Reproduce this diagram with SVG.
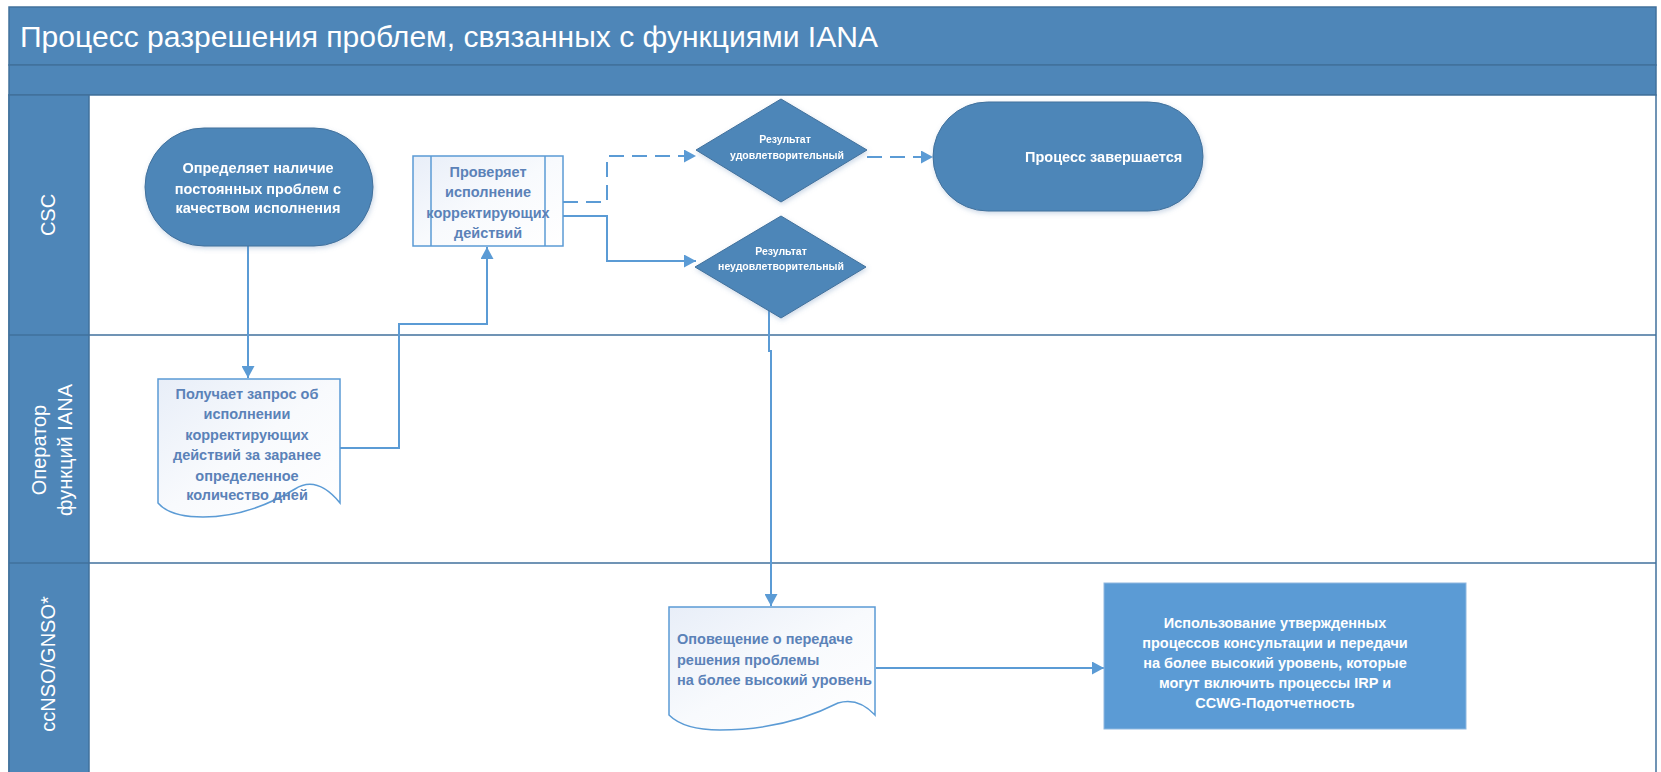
<svg xmlns="http://www.w3.org/2000/svg" width="1661" height="772" viewBox="0 0 1661 772">
<style>
.band{fill:#4e86b8;stroke:#41719c;stroke-width:1.5}
.lane{fill:#ffffff;stroke:#41719c;stroke-width:1.5}
.div{stroke:#41719c;stroke-width:1.5}
.lbl{font-family:"Liberation Sans",Arial,sans-serif;font-size:20px;fill:#ffffff;text-anchor:middle;dominant-baseline:central}
.term{fill:#4e86b8;stroke:#41719c;stroke-width:1}
.dia{fill:#4e86b8;stroke:#41719c;stroke-width:1}
.doc{fill:url(#docg);stroke:#5b9bd5;stroke-width:1.5}
.box{fill:#5b9bd5;stroke:#8fb8e0;stroke-width:1}
.wt{font-family:"Liberation Sans",Arial,sans-serif;font-weight:bold;font-size:14.5px;fill:#ffffff;text-anchor:middle}
.bt{font-family:"Liberation Sans",Arial,sans-serif;font-weight:bold;font-size:14.5px;fill:#5b82b8;text-anchor:middle}
.st{font-family:"Liberation Sans",Arial,sans-serif;font-weight:bold;font-size:10.5px;fill:#ffffff;text-anchor:middle}
.c{fill:none;stroke:#5b9bd5;stroke-width:2;marker-end:url(#ah)}
.dash{stroke-dasharray:15 8}
</style>
<defs>
<marker id="ah" markerUnits="userSpaceOnUse" markerWidth="13" markerHeight="13" refX="12" refY="6.5" orient="auto">
<path d="M0,0 L12,6.5 L0,13 z" fill="#5b9bd5"/>
</marker>
<linearGradient id="docg" x1="0" y1="0" x2="1" y2="1">
<stop offset="0" stop-color="#e8eef8"/>
<stop offset="0.5" stop-color="#f8fafd"/>
<stop offset="1" stop-color="#ffffff"/>
</linearGradient>
<filter id="sh" x="-10%" y="-10%" width="125%" height="130%">
<feDropShadow dx="1" dy="2" stdDeviation="2.5" flood-color="#6b8fb8" flood-opacity="0.35"/>
</filter>
</defs>

<g id="frame">
<rect class="band" x="9" y="7" width="1647" height="58"/>
<rect class="band" x="9" y="65" width="1647" height="30"/>
<rect class="lane" x="9" y="95" width="1647" height="680"/>
<rect class="band" x="9" y="95" width="80" height="680"/>
<line class="div" x1="9" y1="335" x2="1656" y2="335"/>
<line class="div" x1="9" y1="563" x2="1656" y2="563"/>
<text x="20" y="47" font-family="'Liberation Sans',Arial,sans-serif" font-size="30" fill="#ffffff" textLength="858" lengthAdjust="spacingAndGlyphs">Процесс разрешения проблем, связанных с функциями IANA</text>
<text class="lbl" transform="translate(48,215) rotate(-90)">CSC</text>
<text class="lbl" transform="translate(39,450) rotate(-90)">Оператор</text>
<text class="lbl" transform="translate(65,450) rotate(-90)">функций IANA</text>
<text class="lbl" transform="translate(48,664) rotate(-90)">ccNSO/GNSO*</text>
</g>

<g id="connectors">
<path class="c" d="M248,246 V378"/>
<path class="c" d="M340,448 H399 V324 H487 V247"/>
<path class="c dash" d="M563,202 H607 V156 H696"/>
<path class="c dash" d="M867,157 H933"/>
<path class="c" d="M563,216 H607 V261 H696"/>
<path class="c" d="M769,305 V351 H771 V606"/>
<path class="c" d="M876,668 H1104"/>
</g>

<g id="n1" filter="url(#sh)">
<rect class="term" x="145" y="128" width="228" height="118" rx="59" ry="59"/>
<text class="wt" x="258" y="173">Определяет наличие</text>
<text class="wt" x="258" y="194">постоянных проблем с</text>
<text class="wt" x="258" y="213">качеством исполнения</text>
</g>

<g id="n2">
<rect x="413" y="156" width="150" height="90" fill="url(#docg)" stroke="#5b9bd5" stroke-width="1.5"/>
<line x1="431" y1="156" x2="431" y2="246" stroke="#5b9bd5" stroke-width="1.5"/>
<line x1="545" y1="156" x2="545" y2="246" stroke="#5b9bd5" stroke-width="1.5"/>
<text class="bt" x="488" y="177" font-size="15">Проверяет</text>
<text class="bt" x="488" y="197" font-size="15">исполнение</text>
<text class="bt" x="488" y="218" font-size="15">корректирующих</text>
<text class="bt" x="488" y="238" font-size="15">действий</text>
</g>

<g id="n3" filter="url(#sh)">
<polygon class="dia" points="781,99 867,150 781,202 696,150"/>
<text class="st" x="785" y="143">Результат</text>
<text class="st" x="787" y="159">удовлетворительный</text>
</g>

<g id="n4" filter="url(#sh)">
<polygon class="dia" points="781,216 866,267 781,318 695,267"/>
<text class="st" x="781" y="255">Результат</text>
<text class="st" x="781" y="270">неудовлетворительный</text>
</g>

<g id="n5" filter="url(#sh)">
<rect class="term" x="933" y="102" width="270" height="109" rx="54.5" ry="54.5"/>
<text class="wt" x="1025" y="162" text-anchor="start" style="text-anchor:start">Процесс завершается</text>
</g>

<g id="n6">
<path class="doc" d="M158,379 H340 V503 Q317,475 295,489 Q249,517 203,517 Q170,517 158,503 Z"/>
<text class="bt" x="247" y="399">Получает запрос об</text>
<text class="bt" x="247" y="419">исполнении</text>
<text class="bt" x="247" y="440">корректирующих</text>
<text class="bt" x="247" y="460">действий за заранее</text>
<text class="bt" x="247" y="481">определенное</text>
<text class="bt" x="247" y="500">количество дней</text>
</g>

<g id="n7">
<path class="doc" d="M669,607 H875 V715 Q858,697 838,703 Q785,730 720,730 Q684,730 669,715 Z"/>
<text class="bt" x="677" y="644" style="text-anchor:start">Оповещение о передаче</text>
<text class="bt" x="677" y="665" style="text-anchor:start">решения проблемы</text>
<text class="bt" x="677" y="685" style="text-anchor:start">на более высокий уровень</text>
</g>

<g id="n8">
<rect class="box" x="1104" y="583" width="362" height="146"/>
<text class="wt" x="1275" y="628">Использование утвержденных</text>
<text class="wt" x="1275" y="648">процессов консультации и передачи</text>
<text class="wt" x="1275" y="668">на более высокий уровень, которые</text>
<text class="wt" x="1275" y="688">могут включить процессы IRP и</text>
<text class="wt" x="1275" y="708">CCWG-Подотчетность</text>
</g>
</svg>
